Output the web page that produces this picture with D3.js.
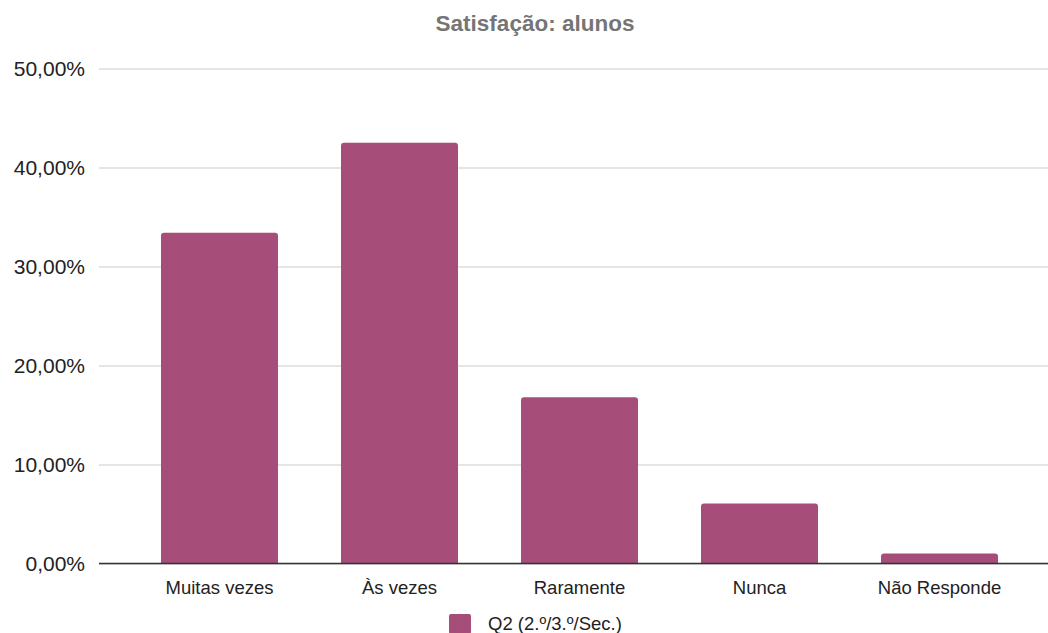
<!DOCTYPE html>
<html><head><meta charset="utf-8">
<script src="https://cdn.jsdelivr.net/npm/d3@7"></script>
<style>body{margin:0;background:#fff}svg{display:block;font-family:Arial,"Liberation Sans",sans-serif}</style>
</head><body><svg id="c" width="1048" height="633"></svg>
<script>
const categories = ["Muitas vezes","Às vezes","Raramente","Nunca","Não Responde"];
const values = [0.3340, 0.4250, 0.1680, 0.0606, 0.0101];
const yTicks = [0,0.1,0.2,0.3,0.4,0.5];
const seriesName = "Q2 (2.º/3.º/Sec.)";
const title = "Satisfação: alunos";

const svg = d3.select("#c");
const x = d3.scaleBand().domain(categories).range([129.5,1029.5]).paddingInner(0.35).paddingOuter(0.175);
const y = d3.scaleLinear().domain([0,0.5]).range([563.5,68.5]);
const fmt = v => d3.format(".2f")(v*100).replace(".", ",") + "%";

svg.append("text").attr("x",535).attr("y",31).attr("text-anchor","middle")
  .attr("font-size",22.5).attr("font-weight","bold").attr("fill","#757575").text(title);

const ya = svg.append("g").attr("transform","translate(99,0)")
  .call(d3.axisLeft(y).tickValues(yTicks).tickSize(-949).tickFormat(fmt).tickPadding(14));
ya.select(".domain").remove();
ya.selectAll(".tick line").attr("stroke","#cccccc").attr("stroke-width",1.2);
ya.selectAll(".tick text").attr("font-size",21).attr("fill","#222").attr("font-family","Arial, 'Liberation Sans', sans-serif").attr("dy","0.35em");

const r = 3;
svg.append("g").selectAll("path").data(values).join("path")
  .attr("fill","#a64d79")
  .attr("d",(d,i)=>{
    const x0 = x(categories[i]), w = x.bandwidth(), y0 = y(d), yb = y(0);
    return `M${x0},${yb}V${y0+r}Q${x0},${y0} ${x0+r},${y0}H${x0+w-r}Q${x0+w},${y0} ${x0+w},${y0+r}V${yb}Z`;
  });

const xa = svg.append("g").attr("transform","translate(0,563.5)")
  .call(d3.axisBottom(x).tickSize(0).tickPadding(17));
xa.select(".domain").remove();
xa.selectAll(".tick text").attr("font-size",18.5).attr("fill","#222").attr("font-family","Arial, 'Liberation Sans', sans-serif");
svg.append("line").attr("x1",99).attr("x2",1048).attr("y1",563.5).attr("y2",563.5).attr("stroke","#333").attr("stroke-width",1.5);

const lg = svg.append("g");
lg.append("rect").attr("x",449).attr("y",614).attr("width",22).attr("height",20).attr("rx",2).attr("fill","#a64d79");
lg.append("text").attr("x",488).attr("y",630).attr("font-size",18.5).attr("fill","#222").text(seriesName);
</script></body></html>
